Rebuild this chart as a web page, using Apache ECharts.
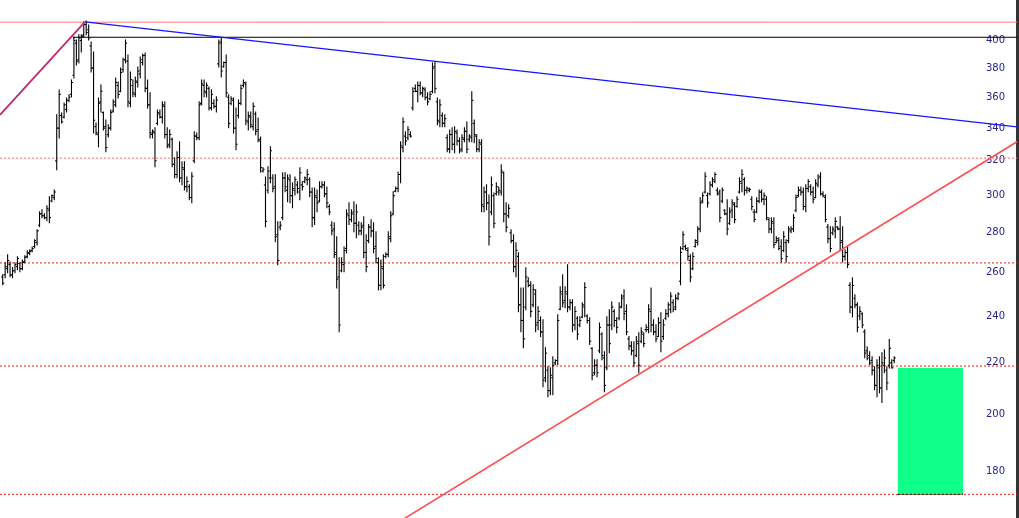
<!DOCTYPE html>
<html><head><meta charset="utf-8">
<script src="https://cdn.jsdelivr.net/npm/echarts@6/dist/echarts.min.js"></script>
<style>html,body{margin:0;padding:0;background:#fff;}#c{width:1019px;height:518px;}</style>
</head><body><div id="c"></div>
<script>
// Weekly OHLC bars (price)
const opens=[
258,259,262,264,259,261,263,264.5,262,265.5,
268,269.5,271,273,275,284,290,289,288,292,
297,299,320,340,348,347,352,358,362,375,
398,386,400,404,412,408,396,380,341,336,
357,350,341,336,340,351,355,368,364,379,
386,385,356,368,362,370,376,384,389,366,
355,336,337,343,349,347,354,336,330,333,
318,312,322,310,315,305,305,299,320,335,
334,356,368,363,366,353,356,354,383,399,
381,384,360,356,358,340,348,356,368,369,
344,347,341,349,339,332,314,306,303,310,
310,305,279,283,288,310,303,309,300,303,
306,302,306,308,309,309,302,288,299,297,
305,306,301,294,284,282,270,258,261,264,
272,289,287,291,285,284,281,284,270,276,
283,281,273,265,254,262,268,269,277,290,
302.5,304,312,328,335,334,336,353,366,364,
368,363,365,360,359,364,381,357,344,348,
343,334,327,336,330,337,332,327,333,338,
333,334,343,335,327,330,294,302,296,291,
300,301,302,302,313,290,289,280,276,263,
268,245,238,244,256,254,245,250,237,238,
233,214,217,209,214,220,221,243,250,247,
250,244,246,236,239,236,239.5,244,240,238,
226,216,219,225,232,222,218,236,236,242,
238,239,244,249,242,230,227,225,223,228,
229,232,234,234,242,236,233,231,237,231,
239,241,243,246,244,248,256,272,273,271,
266,262,273,275,282,297,302,300,301,306,
308,303,302,297,292,290,285,292,295,294,
302,307,309,303,303,298,291,291,297,302,
298,298,287,282,285,275,276,273,271,275,
276,281,282,292,300,303,302,294,304,305,
302,299,306,311,301,299,283,277,280,281,
283,282,276,268,270,254,244,248,245,240,
241,233,225,223,221,217,211,218,210,219,
217,219,220,221];
const highs=[
259.1,264.9,268.8,265.3,262.5,264.9,267.8,264.9,266.3,268.3,
270.8,271.3,272.8,276.4,281.6,291.1,292.2,290.1,294.4,299.4,
300.4,303.2,348.5,365.0,349.7,356.3,359.6,361.7,371.8,402.6,
400.4,404.2,404.2,414.0,414.7,411.7,398.9,391.6,343.3,359.6,
368.4,350.4,345.2,342.1,351.7,358.3,373.2,370.4,380.1,387.2,
400.4,389.4,377.3,371.8,373.9,380.8,388.0,390.1,390.8,371.8,
363.0,338.9,340.2,351.7,351.7,357.0,357.0,340.2,338.9,333.9,
321.8,325.4,331.5,319.4,319.4,310.6,306.1,313.0,337.7,337.0,
357.0,371.8,371.8,369.7,367.0,365.0,358.3,360.3,400.4,401.9,
384.4,389.4,361.7,360.3,359.6,353.0,358.3,368.4,371.8,370.4,
350.4,350.4,356.3,350.4,346.5,334.5,315.9,310.6,316.5,328.4,
311.8,311.8,285.8,285.8,313.0,313.0,311.8,311.8,307.2,310.6,
307.8,315.9,307.8,310.6,314.7,310.1,304.3,304.3,303.2,307.8,
307.8,307.8,304.9,295.0,285.8,285.3,278.0,267.3,267.3,272.8,
292.2,296.1,292.2,296.6,295.0,285.8,285.3,288.5,279.0,284.3,
286.9,285.3,280.6,267.3,266.3,268.8,269.8,280.6,291.1,302.1,
304.9,313.5,331.5,346.5,337.7,340.8,337.7,366.4,368.4,370.4,
370.4,367.0,366.4,363.0,363.7,383.7,384.4,359.6,358.3,349.7,
348.5,335.8,338.9,340.2,340.8,338.9,333.9,335.8,340.2,343.9,
335.8,363.7,345.2,335.8,332.7,332.7,304.9,306.1,300.4,310.6,
301.5,307.2,304.9,317.7,313.5,296.1,295.0,281.6,279.0,274.9,
269.8,252.8,252.8,262.5,257.6,255.7,254.3,251.9,244.1,239.6,
238.3,226.3,218.4,218.0,222.5,221.3,240.5,253.3,259.1,253.3,
263.9,247.3,247.3,244.1,239.6,239.6,245.9,255.2,240.5,239.2,
226.3,221.3,221.3,236.9,232.6,224.6,239.6,242.8,246.4,242.8,
239.2,245.9,249.6,251.9,245.0,231.0,228.8,228.8,231.0,232.6,
234.8,232.6,236.1,245.0,252.8,238.3,236.1,239.2,241.4,238.3,
242.8,245.9,250.5,247.3,249.6,250.5,272.8,280.6,273.8,272.3,
268.8,269.8,276.4,283.2,298.8,301.5,313.0,301.5,307.8,310.1,
313.0,304.3,303.2,304.3,292.2,297.7,293.3,297.7,296.1,299.4,
310.1,314.7,310.1,304.9,304.3,299.4,292.2,298.8,303.2,303.2,
301.5,299.4,288.0,288.0,288.0,278.0,277.4,276.4,280.6,276.4,
283.2,283.2,289.6,300.4,304.9,304.9,304.3,306.1,308.9,306.1,
304.9,308.9,311.8,313.0,302.1,300.4,284.3,283.2,283.2,288.0,
283.2,288.5,283.2,271.3,272.8,255.2,257.6,249.6,245.9,244.1,
241.4,233.9,226.7,224.6,222.5,218.4,221.3,222.5,224.2,225.4,
218.4,229.7,221.3,222.5];
const lows=[
254.3,257.6,260.0,258.1,257.6,260.0,261.5,260.5,261.5,264.9,
267.3,268.8,270.3,272.3,273.8,283.2,288.0,287.4,286.4,285.3,
296.6,297.7,314.7,333.9,343.3,346.5,350.4,357.0,360.3,373.2,
382.2,383.7,391.6,402.6,404.2,400.4,377.3,337.0,335.8,328.4,
350.4,338.9,325.4,334.5,338.9,350.4,353.7,359.6,363.7,377.3,
383.7,353.7,353.7,360.3,360.3,367.0,373.2,382.2,363.7,353.0,
333.9,333.9,316.5,342.1,346.5,343.3,333.9,327.8,327.8,316.5,
310.1,310.1,307.8,306.1,303.2,302.1,297.7,296.1,318.8,332.7,
332.7,355.0,360.3,360.3,351.7,351.7,353.0,350.4,380.8,373.9,
380.8,360.3,340.2,355.0,337.0,326.6,346.5,355.0,367.0,342.1,
338.9,340.2,338.9,335.8,331.5,313.5,313.5,283.2,301.5,307.2,
302.1,275.4,263.9,281.6,286.9,302.1,296.6,296.1,293.3,300.4,
301.5,297.7,303.2,307.2,306.1,299.4,283.2,284.3,291.1,296.6,
304.3,299.4,293.3,289.6,279.0,267.3,252.8,233.1,260.5,260.5,
269.8,284.3,285.8,280.6,277.4,279.0,279.0,267.3,260.5,274.9,
278.0,269.8,264.9,251.9,251.9,252.8,267.3,267.8,275.4,289.6,
302.1,302.1,307.2,325.4,329.6,332.7,334.5,351.7,363.7,357.0,
361.7,360.3,358.3,355.0,358.3,363.0,363.0,342.1,340.8,340.8,
340.8,325.4,324.8,326.6,324.8,329.6,324.8,325.4,331.5,324.8,
331.5,331.5,330.9,325.4,325.4,291.1,291.1,292.2,273.8,289.6,
282.7,300.4,300.4,300.4,285.8,280.6,288.0,274.9,260.5,258.1,
241.9,233.1,226.3,242.8,253.3,239.6,244.1,233.1,233.9,231.0,
210.5,212.4,206.6,207.4,207.4,219.3,219.3,242.8,244.1,243.7,
241.9,242.8,233.1,233.9,229.7,235.2,239.2,239.6,236.9,227.6,
213.2,215.2,214.4,224.2,221.3,208.5,217.2,224.2,233.9,235.2,
232.6,238.3,243.7,238.3,231.8,225.4,223.3,218.4,222.5,216.0,
228.4,226.7,233.1,232.6,233.1,231.8,228.8,231.0,224.6,229.7,
238.3,239.6,241.4,241.9,242.8,247.3,254.3,271.3,271.3,266.3,
255.7,261.5,272.8,273.8,280.6,296.1,301.5,293.8,300.4,304.9,
307.2,300.4,285.8,296.1,289.6,279.0,284.3,288.0,285.3,293.8,
301.5,302.1,300.4,301.5,302.1,292.2,285.8,290.6,296.1,296.6,
295.0,286.9,280.1,280.1,272.3,274.9,271.3,265.3,270.3,265.3,
274.9,280.1,280.6,291.1,299.4,300.4,292.2,291.1,302.1,300.4,
296.1,298.8,304.9,300.4,299.4,285.8,274.9,270.3,279.0,277.4,
281.6,271.3,265.3,266.3,262.5,241.4,239.6,243.7,233.1,238.3,
234.8,222.1,221.3,219.3,215.2,209.3,206.6,208.1,204.4,216.0,
209.3,217.9,217.9,220.1];
const closes=[
255,263,266,259,261,264,267,262,265,267.5,
270,270.5,272,276,281,290,289,288,293,288,
300,302,340,362,344,355,358,360,370,400,
385,402,403,412,406,402,380,345,337,356,
364,340,328,340,350,357,370,362,377,386,
398,357,372,363,371,378,386,389,366,355,
337,338,320,350,347,355,336,329,336,318,
312,322,310,316,305,308,299,311,335,334,
355,369,364,368,353,362,354,358,398,378,
384,363,343,359,340,330,356,366,370,345,
348,342,354,338,333,316,315,286,314,326,
304,278,266,284,310,305,310,300,304,309,
304,313,305,310,312,302,288,300,296,305,
306,301,296,291,281,269,257,236,265,271,
290,287,290,285,291,281,283,270,263,283,
281,272,267,254,263,254,269,278,289,300,
304,312,329,344,332,339,335,364,364,368,
363,366,360,357,362,380,366,345,355,343,
346,327,336,330,338,332,326,334,338,327,
335,358,336,327,331,295,302,296,278,306,
285,305,303,314,290,283,293,276,263,271,
245,238,230,258,254,242,252,236,242,233,
213,224,209,215,219,221,238,251,246,251,
244,246,236,242,232,238,245,253,238,229,
215,219,216,235,223,211,236,228,244,238,
235,244,248,241,233,227,225,220,229,219,
233,228,235,243,236,233,230,237,229,236,
241,245,249,243,248,250,270,279,272,268,
258,268,276,282,296,300,311,296,306,309,
312,301,288,303,290,282,291,296,287,298,
308,312,303,304,303.5,294,287,297,302,298,
300,288,282,286,274,277,272,267,278,268,
282,282,288,299,303,302,294,304,308,302,
298,307,310,301,300,287,277,272,282,286,
282,275,268,270,264,244,254,245,235,242,
236,224,222,220,217,211,219,210,220,222,
212,226,218,222];

// Axis ticks (price)
const tickValues=[180,200,220,240,260,280,300,320,340,360,380,400];
// Horizontal levels (price)
const dottedLevels=[321.6,264.8,218.7,172.4];
const topLevel=413.8;
const resistanceLevel=402.4;
const resistanceStart=28.6;
// Trend lines: [bar index, price]
const blueTrend=[[33.5,414.0],[413,340.8]];
const redTrend=[[160,163.2],[413,331.5]];
const purpleTrend=[[-1.1,348.5],[33.5,414.0]];
// Target zone: bar index range and price range
const zoneFrom=364.5, zoneTo=391, zoneTop=218.0, zoneBottom=172.4;
// Visible ranges
const priceMin=165.0, priceMax=431.2, idxMin=-1.1, idxMax=413.0;

const L=Math.log;
const bars=opens.map((o,i)=>[i,L(o),L(closes[i]),L(lows[i]),L(highs[i])]);

function renderOHLC(params, api){
  const x=api.value(0);
  const o=api.coord([x,api.value(1)]);
  const c=api.coord([x,api.value(2)]);
  const lo=api.coord([x,api.value(3)]);
  const hi=api.coord([x,api.value(4)]);
  const px=hi[0];
  const st={stroke:'#000',lineWidth:1.1};
  return {type:'group',children:[
    {type:'line',shape:{x1:px,y1:hi[1]-0.5,x2:px,y2:lo[1]+0.5},style:st},
    {type:'line',shape:{x1:px-1.6,y1:o[1],x2:px,y2:o[1]},style:st},
    {type:'line',shape:{x1:px,y1:c[1],x2:px+1.6,y2:c[1]},style:st}
  ]};
}
function renderZone(params, api){
  const a=api.coord([api.value(0),api.value(1)]);
  const b=api.coord([api.value(2),api.value(3)]);
  return {type:'rect',shape:{x:a[0],y:a[1],width:b[0]-a[0],height:b[1]-a[1]},style:{fill:'#10ff8a'}};
}
function lineSeries(pts,color,width,dash,z){
  return {type:'line',data:pts.map(p=>[p[0],L(p[1])]),symbol:'none',silent:true,z:z,
    lineStyle:{color:color,width:width,type:dash||'solid'},animation:false};
}

const series=[];
series.push(lineSeries([[idxMin,topLevel],[idxMax,topLevel]],'#f47a7a',1,null,1));
series.push(lineSeries([[resistanceStart,resistanceLevel],[idxMax,resistanceLevel]],'#000',1,null,1));
dottedLevels.forEach((v,k)=>{
  series.push(lineSeries([[idxMin,v],[idxMax,v]],k===0?'#ff6a6a':'#f01818',1,[2,2],1));
});
series.push({type:'custom',renderItem:renderZone,data:[[zoneFrom,L(zoneTop),zoneTo,L(zoneBottom)]],
  encode:{x:[0,2],y:[1,3]},silent:true,z:2,animation:false});
series.push(lineSeries([[zoneFrom,zoneBottom],[zoneTo,zoneBottom]],'#000',1,[2,2],3));
series.push({type:'custom',renderItem:renderOHLC,data:bars,encode:{x:0,y:[1,2,3,4]},silent:true,z:3,animation:false});
series.push(lineSeries(blueTrend,'#1414ff',1.2,null,4));
series.push(lineSeries(redTrend,'#ff5050',1.6,null,4));
series.push(lineSeries(purpleTrend,'#c02a72',1.8,null,4));

const chart=echarts.init(document.getElementById('c'),null,{renderer:'canvas'});
chart.setOption({
  animation:false,
  backgroundColor:'#fff',
  grid:{left:0,right:2,top:0,bottom:0,containLabel:false},
  xAxis:{type:'value',min:idxMin,max:idxMax,show:false},
  yAxis:{type:'value',position:'right',min:L(priceMin),max:L(priceMax),
    axisLine:{show:true,onZero:false,lineStyle:{color:'#333',width:3}},
    axisTick:{show:false},splitLine:{show:false},
    axisLabel:{inside:true,margin:12,color:'#25258a',fontFamily:'DejaVu Sans',fontSize:10,
      customValues:tickValues.map(L),
      formatter:v=>String(Math.round(Math.exp(v)))}},
  series:series
});
</script></body></html>
